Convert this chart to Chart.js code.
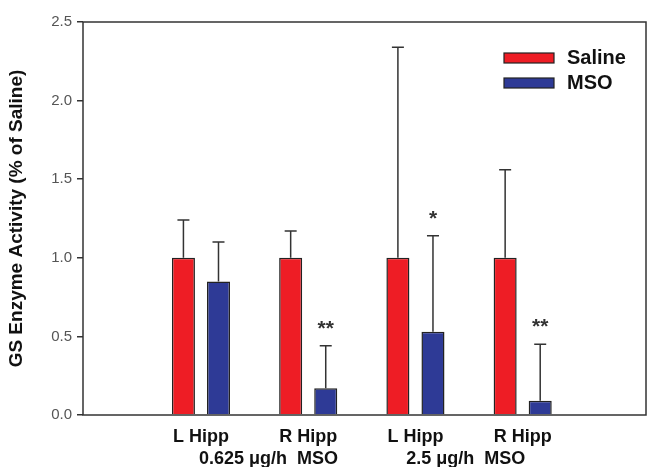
<!DOCTYPE html>
<html><head><meta charset="utf-8">
<title>GS Enzyme Activity</title>
<script src="https://cdn.jsdelivr.net/npm/chart.js"></script>
<style>
    html, body { margin: 0; padding: 0; background: #fff; }
    #wrap { width: 652px; height: 467px; }
</style></head>
<body>
<div id="wrap"><canvas id="grafico" width="652" height="467"></canvas></div>
<script>
// --- DADOS ---
const grupos = ['L Hipp', 'R Hipp', 'L Hipp', 'R Hipp'];
const doses = ['0.625 μg/h  MSO', '2.5 μg/h  MSO'];
const salina = [1.0, 1.0, 1.0, 1.0];
const salinaErro = [0.24, 0.17, 1.34, 0.56];
const mso = [0.85, 0.17, 0.53, 0.09];
const msoErro = [0.25, 0.27, 0.61, 0.36];
const msoSig = ['', '**', '*', '**'];
const yTicks = [0.0, 0.5, 1.0, 1.5, 2.0, 2.5];

const FONTE = "'Liberation Sans', Arial, sans-serif";
const LINHA = '#333';

// pontos {x, y} para o eixo x linear
const pontos = arr => arr.map((v, i) => ({ x: i + 1, y: v }));

// barras de erro (so para cima) + asteriscos
const erroPlugin = {
    id: 'erro',
    afterDatasetsDraw(chart) {
        const c = chart.ctx;
        const ys = chart.scales.y;
        chart.data.datasets.forEach((ds, i) => {
            const meta = chart.getDatasetMeta(i);
            meta.data.forEach((bar, j) => {
                const topo = ys.getPixelForValue(ds.data[j].y + ds.erro[j]);
                c.save();
                c.strokeStyle = LINHA;
                c.lineWidth = 1.5;
                c.beginPath();
                c.moveTo(bar.x, bar.y);
                c.lineTo(bar.x, topo);
                c.moveTo(bar.x - 6, topo);
                c.lineTo(bar.x + 6, topo);
                c.stroke();
                if (ds.sig && ds.sig[j]) {
                    c.fillStyle = '#333';
                    c.font = 'bold 21px ' + FONTE;
                    c.textAlign = 'center';
                    c.textBaseline = 'alphabetic';
                    c.fillText(ds.sig[j], bar.x, topo - 11);
                }
                c.restore();
            });
        });
    }
};

// moldura + legenda dentro da area
const molduraPlugin = {
    id: 'moldura',
    afterDraw(chart) {
        const c = chart.ctx;
        const a = chart.chartArea;
        c.save();
        c.strokeStyle = LINHA;
        c.lineWidth = 1.5;
        c.strokeRect(a.left, a.top, a.right - a.left, a.bottom - a.top);

        chart.data.datasets.forEach((ds, i) => {
            const y = a.top + 31 + i * 25;
            c.fillStyle = ds.backgroundColor;
            c.fillRect(a.right - 142, y, 50, 10);
            c.strokeStyle = '#222';
            c.lineWidth = 1.2;
            c.strokeRect(a.right - 142, y, 50, 10);
            c.fillStyle = '#111';
            c.font = 'bold 20px ' + FONTE;
            c.textAlign = 'left';
            c.textBaseline = 'middle';
            c.fillText(ds.label, a.right - 79, y + 5);
        });
        c.restore();
    }
};

const xComum = {
    type: 'linear',
    position: 'bottom',
    min: -0.1,
    max: 5.15,
    offset: false,
    grid: { display: false, drawTicks: false },
    border: { display: false }
};

new Chart(document.getElementById('grafico'), {
    type: 'bar',
    data: {
        datasets: [
            { label: 'Saline', data: pontos(salina), erro: salinaErro,
              backgroundColor: '#EE1D25', borderColor: '#222', borderWidth: 1.5,
              categoryPercentage: 0.654, barPercentage: 0.657 },
            { label: 'MSO', data: pontos(mso), erro: msoErro, sig: msoSig,
              backgroundColor: '#2E3A96', borderColor: '#222', borderWidth: 1.5,
              categoryPercentage: 0.654, barPercentage: 0.657 }
        ]
    },
    options: {
        responsive: false,
        animation: false,
        layout: { padding: { top: 22, right: 6, left: 0, bottom: 0 } },
        plugins: { legend: { display: false }, tooltip: { enabled: false } },
        scales: {
            x: Object.assign({}, xComum, {
                afterBuildTicks: s => { s.ticks = grupos.map((g, i) => ({ value: i + 1 })); },
                ticks: { autoSkip: false, maxRotation: 0, padding: 11, color: '#111',
                         font: { family: FONTE, size: 18, weight: 'bold' },
                         callback: v => grupos[v - 1] },
                afterFit: s => { s.height = 33; }
            }),
            x2: Object.assign({}, xComum, {
                afterBuildTicks: s => { s.ticks = [{ value: 1.63 }, { value: 3.47 }]; },
                ticks: { autoSkip: false, maxRotation: 0, padding: 0, color: '#111',
                         font: { family: FONTE, size: 18, weight: 'bold' },
                         callback: v => (v < 2.5 ? doses[0] : doses[1]) },
                afterFit: s => { s.height = 19; }
            }),
            y: {
                min: 0,
                max: 2.5,
                afterBuildTicks: s => { s.ticks = yTicks.map(v => ({ value: v })); },
                ticks: { padding: 5, color: '#555',
                         font: { family: FONTE, size: 15 },
                         callback: v => v.toFixed(1) },
                grid: { drawOnChartArea: false, drawTicks: true, tickLength: 6, color: LINHA, lineWidth: 1.5 },
                border: { display: false },
                title: { display: true, text: 'GS Enzyme Activity (% of Saline)', color: '#111',
                         font: { family: FONTE, size: 19, weight: 'bold' }, padding: { top: 5, bottom: 0 } },
                afterFit: s => { s.width = 83; }
            }
        }
    },
    plugins: [erroPlugin, molduraPlugin]
});
</script>
</body></html>
